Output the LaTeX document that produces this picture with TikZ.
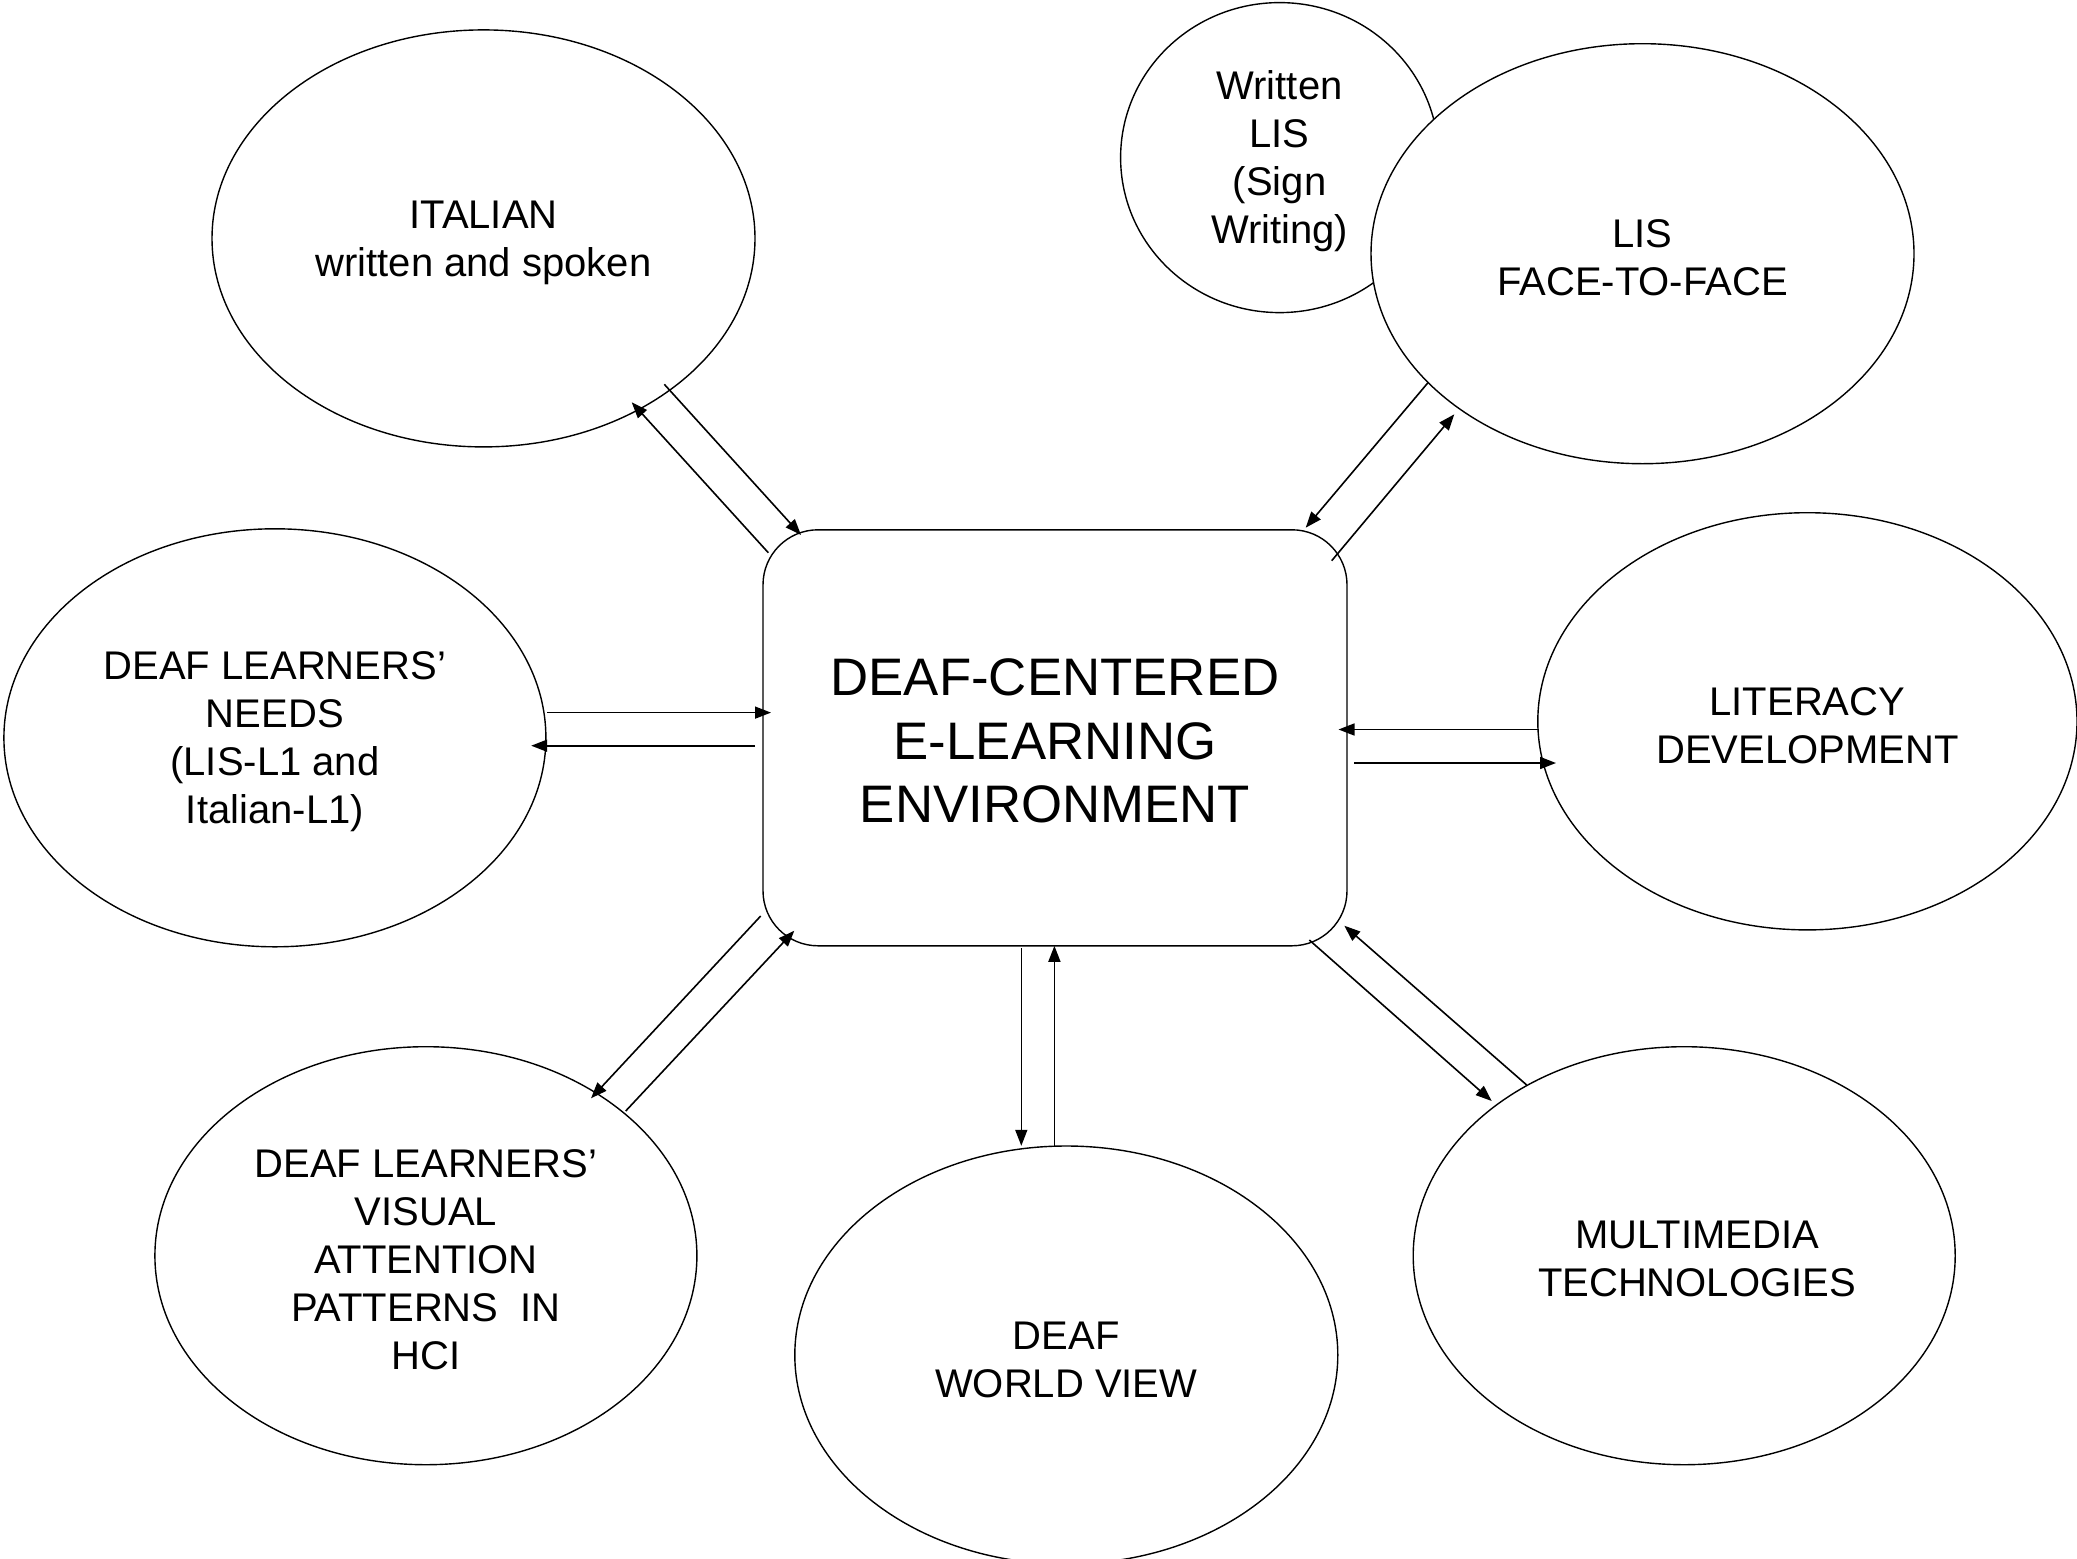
\documentclass[tikz,border=0pt]{standalone}
\usepackage{fontspec}
\setmainfont{Liberation Sans}
\usetikzlibrary{shapes.geometric,arrows.meta}
\newcommand\toppad{\rule{0pt}{18.3pt}}
\newcommand\hubpad{\rule{0pt}{21.5pt}}
\begin{document}
\begin{tikzpicture}[x=0.5pt,y=-0.5pt,
  ell/.style={draw, ellipse, line width=0.7pt, inner sep=0pt, fill=white, align=center, font=\fontsize{20}{24}\selectfont},
  txt/.style={align=center, inner sep=0pt, font=\fontsize{20}{24}\selectfont},
  hub/.style={draw, rectangle, rounded corners=27.5pt, line width=0.7pt, inner sep=0pt, align=center, minimum width=292pt, minimum height=208pt, font=\fontsize{26.4}{31.8}\selectfont},
  link/.style={line width=0.8pt, -{Triangle[length=8pt,width=6pt]}}
]
\useasboundingbox (0,0) rectangle (2077,1558);
\fill[white] (0,0) rectangle (2077,1558);

% nodes
\node[ell, minimum width=159pt, minimum height=155pt] (wlis) at (1279.6,157.6) {\toppad Written\\LIS\\(Sign\\Writing)};
\node[ell, minimum width=271.5pt, minimum height=210pt] (lisf) at (1642.5,253.7) {\toppad LIS\\FACE-TO-FACE};
\node[ell, minimum width=271.5pt, minimum height=208.5pt] (ital) at (483.5,238.4) {\toppad ITALIAN\\written and spoken};
\node[ell, minimum width=271pt, minimum height=209pt] (needs) at (274.9,737.8) {\toppad DEAF LEARNERS’\\NEEDS\\(LIS-L1 and\\Italian-L1)};
\node[ell, minimum width=269.6pt, minimum height=208.6pt] (lit) at (1807.4,721.3) {\toppad LITERACY\\DEVELOPMENT};
\node[ell, minimum width=271pt, minimum height=209pt] (vis) at (425.9,1255.7) {\toppad DEAF LEARNERS’\\VISUAL\\ATTENTION\\PATTERNS\ \ IN\\HCI};
\node[ell, minimum width=271.5pt, minimum height=209pt] (world) at (1066.3,1355) {\toppad DEAF\\WORLD VIEW};
\node[ell, minimum width=271pt, minimum height=209pt] (mm) at (1684.2,1255.7) {};
\node[txt] (mmtext) at (1697,1258.5) {MULTIMEDIA\\TECHNOLOGIES};
\node[hub] (hub) at (1055,737.8) {\hubpad DEAF-CENTERED\\E-LEARNING\\ENVIRONMENT};

% connector end points
\coordinate (i1) at (768.3,552.7);  \coordinate (i2) at (631.7,402.3);
\coordinate (i3) at (664.3,384.3);  \coordinate (i4) at (801,535);
\coordinate (l1) at (1428.3,382.3); \coordinate (l2) at (1305.7,527.7);
\coordinate (l3) at (1331.7,560.7); \coordinate (l4) at (1454.3,414.3);
\coordinate (n1) at (547,712.6);    \coordinate (n2) at (771,712.6);
\coordinate (n3) at (755,745.7);    \coordinate (n4) at (531.2,745.7);
\coordinate (t1) at (1538.5,729.5); \coordinate (t2) at (1338.5,729.5);
\coordinate (t3) at (1354,763);     \coordinate (t4) at (1556,763);
\coordinate (v1) at (760.7,916);    \coordinate (v2) at (591,1098.3);
\coordinate (v3) at (625.7,1111);   \coordinate (v4) at (794.3,930.7);
\coordinate (w1) at (1021.3,948.4); \coordinate (w2) at (1021.3,1145.8);
\coordinate (w3) at (1054.4,1145.8);\coordinate (w4) at (1054.4,945.8);
\coordinate (m1) at (1309.3,940);   \coordinate (m2) at (1491.7,1101);
\coordinate (m3) at (1526.7,1085);  \coordinate (m4) at (1344.3,925.7);

% connectors
\draw[link] (i1) -- (i2);
\draw[link] (i3) -- (i4);
\draw[link] (l1) -- (l2);
\draw[link] (l3) -- (l4);
\draw[link] (n1) -- (n2);
\draw[link] (n3) -- (n4);
\draw[link] (t1) -- (t2);
\draw[link] (t3) -- (t4);
\draw[link] (v1) -- (v2);
\draw[link] (v3) -- (v4);
\draw[link] (w1) -- (w2);
\draw[link] (w3) -- (w4);
\draw[link] (m1) -- (m2);
\draw[link] (m3) -- (m4);
\end{tikzpicture}
\end{document}
